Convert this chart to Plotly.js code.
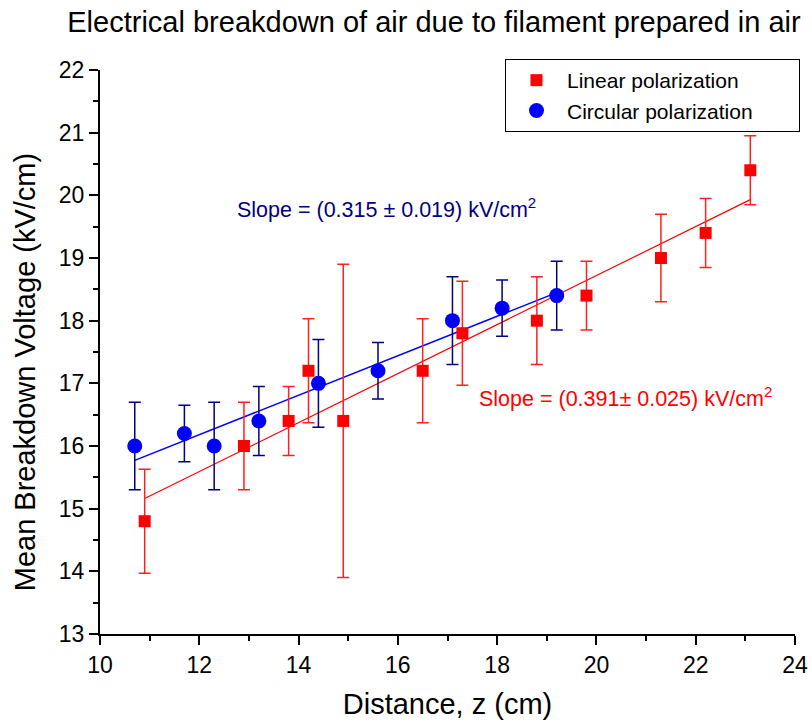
<!DOCTYPE html>
<html>
<head>
<meta charset="utf-8">
<script src="https://cdn.plot.ly/plotly-3.0.1.min.js"></script>
<style>html,body{margin:0;padding:0;background:#fff;}#chart{width:812px;height:725px;}</style>
</head>
<body>
<div id="chart"></div>
<script>
// Linear polarization data
const linX = [10.9, 12.9, 13.8, 14.2, 14.9, 16.5, 17.3, 18.8, 19.8, 21.3, 22.2, 23.1];
const linY = [14.8, 16.0, 16.4, 17.2, 16.4, 17.2, 17.8, 18.0, 18.4, 19.0, 19.4, 20.4];
const linErr = [0.83, 0.7, 0.55, 0.83, 2.5, 0.83, 0.83, 0.7, 0.55, 0.7, 0.55, 0.55];
// Circular polarization data
const cirX = [10.7, 11.7, 12.3, 13.2, 14.4, 15.6, 17.1, 18.1, 19.2];
const cirY = [16.0, 16.2, 16.0, 16.4, 17.0, 17.2, 18.0, 18.2, 18.4];
const cirErr = [0.7, 0.45, 0.7, 0.55, 0.7, 0.45, 0.7, 0.45, 0.55];
// Linear fits: [slope, intercept]
const linFit = [0.391, 10.90];
const cirFit = [0.315, 12.40];
// Legend labels
const seriesNames = ['Linear polarization', 'Circular polarization'];

function fitLine(xs, fit) {
  const x0 = Math.min(...xs), x1 = Math.max(...xs);
  return {x: [x0, x1], y: [fit[1] + fit[0] * x0, fit[1] + fit[0] * x1]};
}
const lf = fitLine(linX, linFit);
const cf = fitLine(cirX, cirFit);

const FONT = 'Liberation Sans, Arial, sans-serif';
const PAD = '\u00a0'.repeat(7); // right padding inside the legend box

const traces = [
  {x: lf.x, y: lf.y, mode: 'lines', line: {color: '#FF0000', width: 1.2}, showlegend: false, hoverinfo: 'skip'},
  {x: cf.x, y: cf.y, mode: 'lines', line: {color: '#0000FF', width: 1.5}, showlegend: false, hoverinfo: 'skip'},
  {x: linX, y: linY, mode: 'markers', name: seriesNames[0],
   marker: {symbol: 'square', size: 12, color: '#FF0000'},
   error_y: {type: 'data', array: linErr, visible: true, color: '#FF2020', thickness: 1.5, width: 6}},
  {x: cirX, y: cirY, mode: 'markers', name: seriesNames[1] + PAD,
   marker: {symbol: 'circle', size: 15, color: '#0000FF'},
   error_y: {type: 'data', array: cirErr, visible: true, color: '#000080', thickness: 1.5, width: 6}}
];

const layout = {
  width: 812, height: 725,
  paper_bgcolor: '#fff', plot_bgcolor: '#fff',
  margin: {l: 100, r: 15, t: 70, b: 91},
  font: {family: FONT, color: '#000'},
  title: {text: 'Electrical breakdown of air due to filament prepared in air',
          font: {family: FONT, size: 29, color: '#000'},
          x: 0.5345, xanchor: 'center', xref: 'container', yref: 'container', y: 0.97, yanchor: 'middle'},
  xaxis: {range: [10, 24], dtick: 2, tick0: 10, showgrid: false, zeroline: false,
          showline: true, linecolor: '#000', linewidth: 2,
          ticks: 'outside', ticklen: 9, tickwidth: 2, tickcolor: '#000',
          minor: {dtick: 1, ticks: 'outside', ticklen: 5, tickwidth: 2, tickcolor: '#000'},
          tickfont: {family: FONT, size: 23, color: '#000'},
          title: {text: 'Distance, z (cm)', font: {family: FONT, size: 29, color: '#000'}, standoff: 17}},
  yaxis: {range: [13, 22], dtick: 1, tick0: 13, showgrid: false, zeroline: false,
          showline: true, linecolor: '#000', linewidth: 2,
          ticks: 'outside', ticklen: 9, tickwidth: 2, tickcolor: '#000',
          minor: {dtick: 0.5, ticks: 'outside', ticklen: 5, tickwidth: 2, tickcolor: '#000'},
          tickfont: {family: FONT, size: 23, color: '#000'}},
  legend: {x: 1.0072, y: 1.0195, xanchor: 'right', yanchor: 'top',
           bgcolor: '#fff', bordercolor: '#000', borderwidth: 1, itemwidth: 51,
           font: {family: FONT, size: 21, color: '#000'}, tracegroupgap: 0},
  annotations: [
    {x: -0.1076, y: 0.4645, xref: 'paper', yref: 'paper', xanchor: 'center', yanchor: 'middle',
     showarrow: false, textangle: -90,
     text: 'Mean Breakdown Voltage (kV/cm)', font: {family: FONT, size: 29, color: '#000'}},
    {x: 12.71, y: 19.79, xref: 'x', yref: 'y', xanchor: 'left', yanchor: 'middle', showarrow: false,
     text: 'Slope = (0.315 ± 0.019) kV/cm<sup>2</sup>', font: {family: FONT, size: 21.5, color: '#000080'}},
    {x: 17.59, y: 16.78, xref: 'x', yref: 'y', xanchor: 'left', yanchor: 'middle', showarrow: false,
     text: 'Slope = (0.391± 0.025) kV/cm<sup>2</sup>', font: {family: FONT, size: 21.5, color: '#FF0000'}}
  ]
};

Plotly.newPlot('chart', traces, layout, {displayModeBar: false, staticPlot: true});
</script>
</body>
</html>
